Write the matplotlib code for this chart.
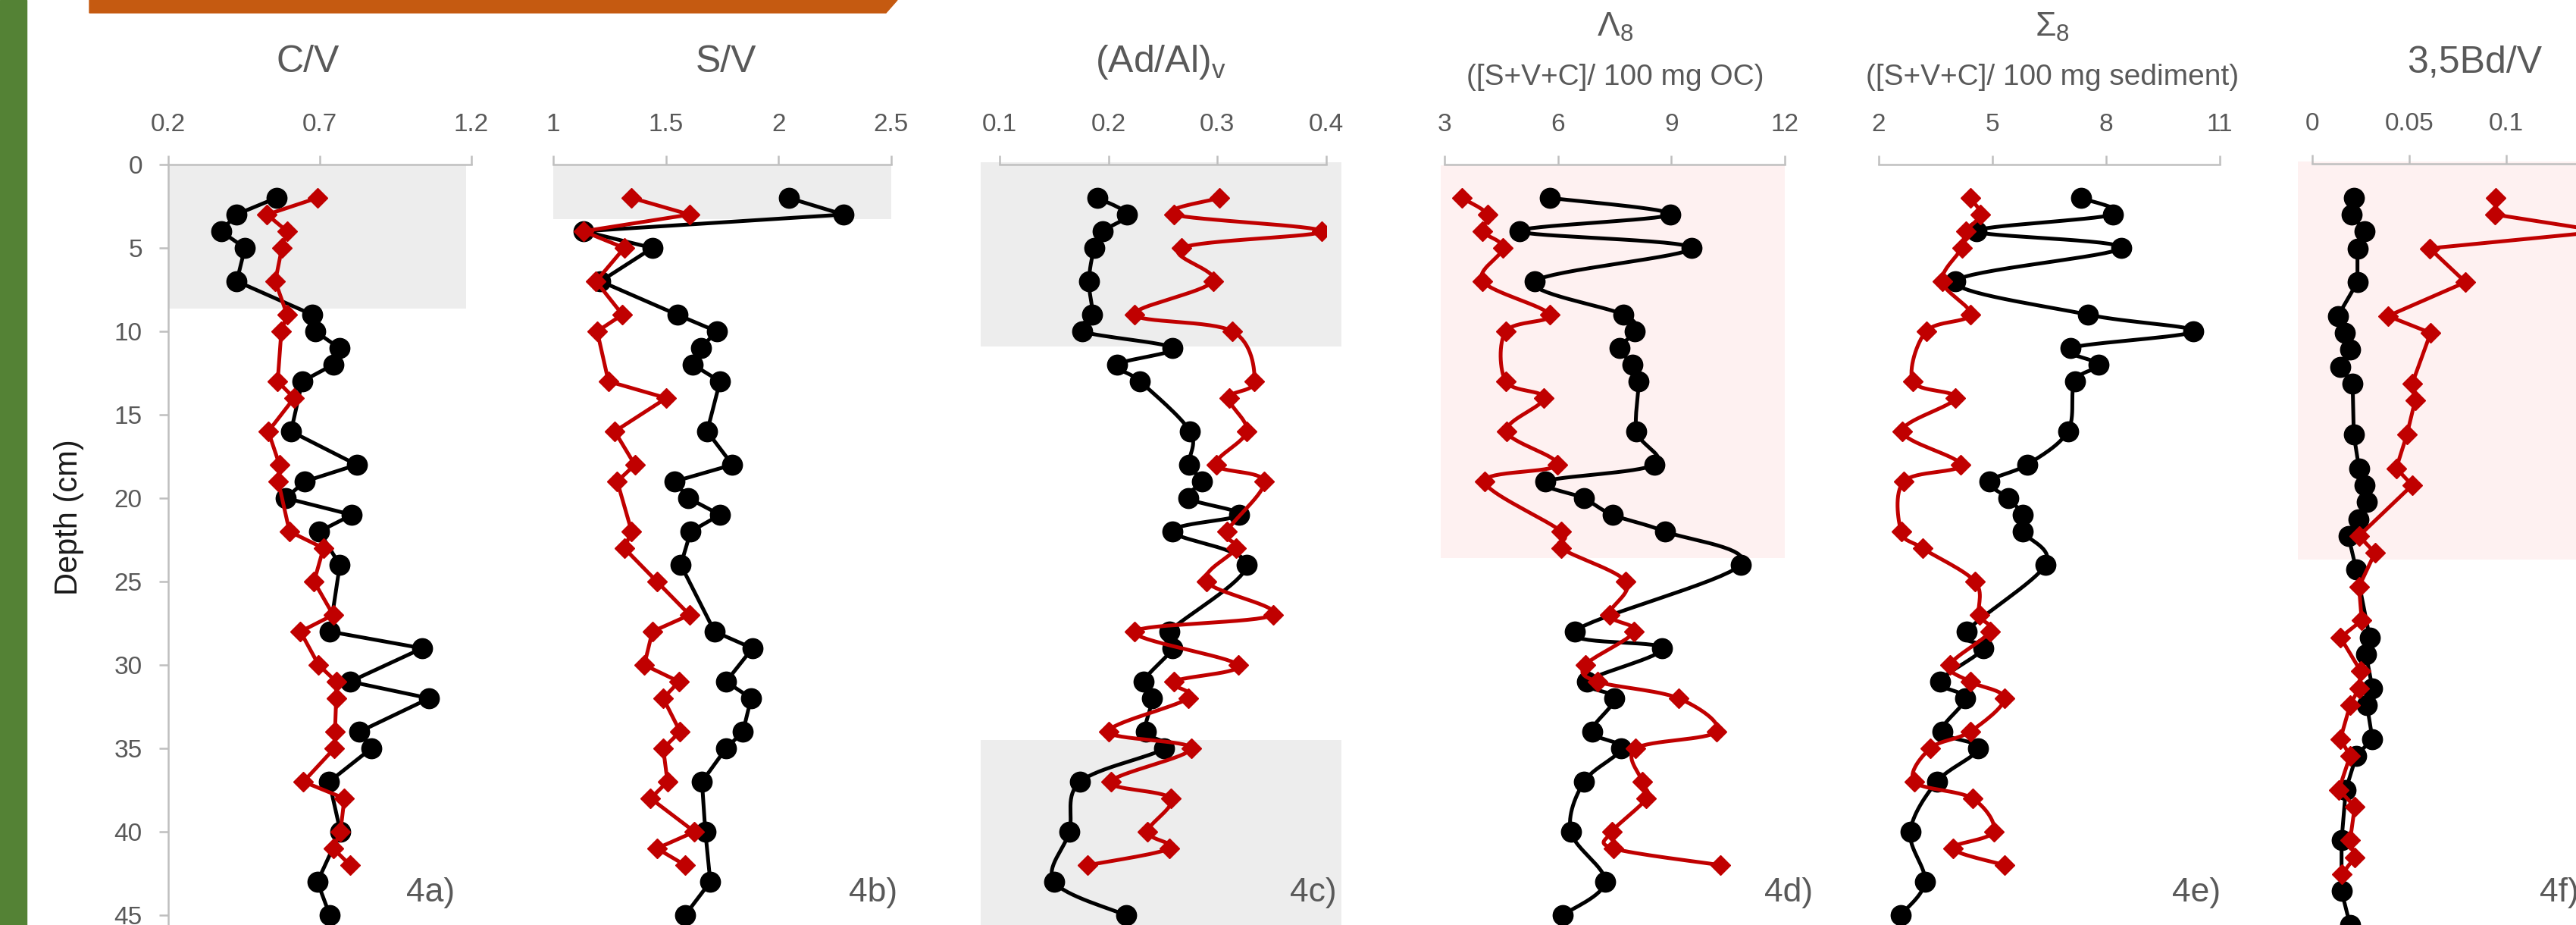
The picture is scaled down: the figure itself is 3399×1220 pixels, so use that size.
import numpy as np
import matplotlib
matplotlib.use("Agg")
import matplotlib.pyplot as plt
from matplotlib.patches import Rectangle, Polygon

# depths (cm) of the two cores
depth_black = [2, 3, 4, 5, 7, 9, 10, 11, 12, 13, 16, 18, 19, 20, 21, 22, 24,
               28, 29, 31, 32, 34, 35, 37, 40, 43, 45]
depth_red = [2, 3, 4, 5, 7, 9, 10, 13, 14, 16, 18, 19, 22, 23, 25, 27, 28,
             30, 31, 32, 34, 35, 37, 38, 40, 41, 42]

# 4a) C/V
cv_black = [0.557, 0.424, 0.374, 0.453, 0.426, 0.675, 0.685, 0.764, 0.744, 0.642, 0.605,
            0.822, 0.65, 0.588, 0.806, 0.698, 0.766, 0.733, 1.038, 0.80, 1.061, 0.831,
            0.870, 0.731, 0.768, 0.692, 0.733]
cv_red = [0.692, 0.526, 0.592, 0.575, 0.553, 0.592, 0.573, 0.561, 0.615, 0.530, 0.567,
          0.563, 0.600, 0.712, 0.681, 0.744, 0.636, 0.696, 0.754, 0.754, 0.75, 0.748,
          0.646, 0.781, 0.768, 0.744, 0.80]
# 4b) S/V
sv_black = [2.045, 2.288, 1.134, 1.44, 1.21, 1.55, 1.725, 1.655, 1.62, 1.74, 1.683,
            1.795, 1.538, 1.60, 1.74, 1.61, 1.566, 1.716, 1.884, 1.767, 1.878, 1.842,
            1.767, 1.66, 1.675, 1.697, 1.585]
sv_red = [1.348, 1.605, 1.134, 1.315, 1.19, 1.307, 1.195, 1.245, 1.502, 1.273, 1.362,
          1.284, 1.348, 1.315, 1.46, 1.605, 1.44, 1.404, 1.558, 1.488, 1.563, 1.488,
          1.507, 1.432, 1.627, 1.46, 1.585]
# 4c) (Ad/Al)v
adal_black = [0.190, 0.217, 0.195, 0.187, 0.182, 0.185, 0.176, 0.259, 0.208, 0.229, 0.275,
              0.274, 0.286, 0.273, 0.32, 0.259, 0.327, 0.256, 0.259, 0.232, 0.240, 0.234,
              0.251, 0.174, 0.164, 0.150, 0.216]
adal_red = [0.302, 0.260, 0.396, 0.267, 0.296, 0.224, 0.314, 0.334, 0.311, 0.327, 0.299,
            0.343, 0.309, 0.317, 0.290, 0.351, 0.224, 0.319, 0.260, 0.273, 0.2, 0.276,
            0.202, 0.257, 0.236, 0.256, 0.181]
# 4d) Lambda8
lam_black = [5.78, 8.97, 4.99, 9.53, 5.39, 7.73, 8.03, 7.63, 7.98, 8.13, 8.08, 8.55, 5.67,
             6.68, 7.45, 8.83, 10.83, 6.44, 8.76, 6.76, 7.49, 6.90, 7.67, 6.69, 6.34, 7.25, 6.12]
lam_red = [3.46, 4.15, 4.01, 4.54, 4.01, 5.78, 4.62, 4.62, 5.63, 4.64, 5.98, 4.06, 6.09,
           6.09, 7.80, 7.36, 8.02, 6.73, 7.04, 9.19, 10.19, 8.06, 8.23, 8.34, 7.43, 7.47, 10.30]
# 4e) Sigma8
sig_black = [7.33, 8.18, 4.58, 8.39, 4.02, 7.52, 10.30, 7.06, 7.80, 7.17, 6.99, 5.91, 4.92,
             5.41, 5.80, 5.80, 6.40, 4.32, 4.76, 3.62, 4.27, 3.67, 4.62, 3.53, 2.83, 3.22, 2.57]
sig_red = [4.41, 4.68, 4.30, 4.19, 3.67, 4.41, 3.25, 2.90, 4.02, 2.62, 4.16, 2.66, 2.59,
           3.15, 4.54, 4.65, 4.93, 3.88, 4.41, 5.32, 4.41, 3.36, 2.94, 4.47, 5.03, 3.95, 5.32]
# 4f) 3,5Bd/V
bd_black = [0.0214, 0.0205, 0.0268, 0.0233, 0.0233, 0.0132, 0.0167, 0.0195, 0.0145, 0.0208,
            0.0214, 0.0241, 0.0268, 0.028, 0.024, 0.0186, 0.0227, 0.0296, 0.0277, 0.031,
            0.0282, 0.031, 0.0227, 0.0173, 0.0151, 0.0151, 0.0195]
bd_red = [0.0945, 0.094, 0.15, 0.0605, 0.079, 0.039, 0.061, 0.0515, 0.053, 0.0488, 0.0433,
          0.0515, 0.0241, 0.0323, 0.0241, 0.0255, 0.0145, 0.025, 0.0241, 0.0195, 0.0145,
          0.0195, 0.0137, 0.0219, 0.0195, 0.0219, 0.0153]

titles = ['C/V', 'S/V', '(Ad/Al)$_v$', 'Λ$_8$', 'Σ$_8$', '3,5Bd/V']
subtitles = ['', '', '', '([S+V+C]/ 100 mg OC)', '([S+V+C]/ 100 mg sediment)', '']
tags = ['4a)', '4b)', '4c)', '4d)', '4e)', '4f)']
xticks = [[0.2, 0.7, 1.2], [1, 1.5, 2, 2.5], [0.1, 0.2, 0.3, 0.4],
          [3, 6, 9, 12], [2, 5, 8, 11], [0, 0.05, 0.1]]
xticklabels = [['0.2', '0.7', '1.2'], ['1', '1.5', '2', '2.5'], ['0.1', '0.2', '0.3', '0.4'],
               ['3', '6', '9', '12'], ['2', '5', '8', '11'], ['0', '0.05', '0.1']]

W, H = 3399, 1220
GREY_AX = '#BFBFBF'
TXT = '#595959'
RED = '#C00000'

plt.rcParams['font.family'] = ['Liberation Sans', 'DejaVu Sans']
plt.rcParams['mathtext.fontset'] = 'custom'
plt.rcParams['mathtext.rm'] = 'Liberation Sans'
plt.rcParams['mathtext.default'] = 'regular'


def smooth(x, y, n=16):
    # Catmull-Rom, same as Excel "smoothed line"
    p = np.column_stack([x, y]).astype(float)
    p = np.vstack([p[0], p, p[-1]])
    t = np.linspace(0, 1, n, endpoint=False)[:, None]
    out = []
    for i in range(1, len(p) - 2):
        p0, p1, p2, p3 = p[i - 1], p[i], p[i + 1], p[i + 2]
        seg = 0.5 * (2 * p1 + (p2 - p0) * t + (2 * p0 - 5 * p1 + 4 * p2 - p3) * t ** 2
                     + (3 * p1 - p0 - 3 * p2 + p3) * t ** 3)
        out.append(seg)
    out.append(p[-2][None])
    arr = np.vstack(out)
    return arr[:, 0], arr[:, 1]


fig = plt.figure(figsize=(W / 100, H / 100), dpi=100)

# slide decorations
fig.patches.append(Rectangle((0, 0), 35 / W, 1, transform=fig.transFigure,
                             color='#548235', zorder=0))
fig.patches.append(Polygon([(118 / W, 1), (1184 / W, 1), (1169 / W, 1 - 17 / H), (118 / W, 1 - 17 / H)],
                           closed=True, transform=fig.transFigure, color='#C55A11', zorder=0))

# layout in pixels: x of axis start/end, depth-0 row, bottom depth
layout = [(222, 622, 217, 45.59), (730, 1176, 217, 45.59), (1319, 1750, 217, 45.59),
          (1906, 2355, 217, 45.59), (2479, 2929, 217, 45.59), (3051, 3435, 216, 45.0)]
xlims = [(0.2, 1.2), (1, 2.5), (0.1, 0.4), (3, 12), (2, 11), (0, 0.15)]
series = [(cv_black, cv_red), (sv_black, sv_red), (adal_black, adal_red),
          (lam_black, lam_red), (sig_black, sig_red), (bd_black, bd_red)]
smoothed = [False, False, True, True, True, False]
shades = [[(0.2, 1.183, 0, 8.65, '#EDEDED')],
          [(1.0, 2.5, 0, 3.27, '#EDEDED')],
          [(0.0824, 0.414, -0.15, 10.93, '#EDEDED'), (0.0824, 0.414, 34.5, 46, '#EDEDED')],
          [(2.9, 12.0, 0.05, 23.6, '#FEF1F1')],
          [],
          [(-0.0074, 0.2, -0.15, 23.4, '#FEF1F1')]]

axes = []
for i, (x0, x1, top, dmax) in enumerate(layout):
    ax = fig.add_axes([x0 / W, 0, (x1 - x0) / W, (H - top) / H])
    ax.patch.set_alpha(0)
    ax.set_xlim(*xlims[i])
    ax.set_ylim(dmax, 0)
    for s in ['bottom', 'right', 'left']:
        ax.spines[s].set_visible(False)
    ax.spines['top'].set_color(GREY_AX)
    ax.spines['top'].set_linewidth(1.8)
    ax.xaxis.tick_top()
    ax.set_xticks(xticks[i])
    ax.set_xticklabels(xticklabels[i])
    ax.tick_params(axis='x', direction='out', length=8.6, width=1.8, color=GREY_AX,
                   labelsize=24, labelcolor=TXT, pad=18)
    if i == 0:
        ax.spines['left'].set_visible(True)
        ax.spines['left'].set_color(GREY_AX)
        ax.spines['left'].set_linewidth(1.8)
        ax.set_yticks(range(0, 50, 5))
        ax.tick_params(axis='y', direction='out', length=8.6, width=1.8, color=GREY_AX,
                       labelsize=24, labelcolor=TXT, pad=16)
    else:
        ax.set_yticks([])

    for (a, b, d0, d1, c) in shades[i]:
        ax.add_patch(Rectangle((a, d0), b - a, d1 - d0, facecolor=c, edgecolor='none',
                               zorder=0, clip_on=False))

    blk, red = series[i]
    if smoothed[i]:
        bx, by = smooth(blk, depth_black)
        rx, ry = smooth(red, depth_red)
    else:
        bx, by = blk, depth_black
        rx, ry = red, depth_red
    ax.plot(bx, by, color='black', lw=3.6, zorder=3, solid_joinstyle='round')
    ax.plot(blk, depth_black, ls='none', marker='o', ms=19, color='black', zorder=4)
    ax.plot(rx, ry, color=RED, lw=3.6, zorder=5, solid_joinstyle='round')
    ax.plot(red, depth_red, ls='none', marker='D', ms=13, color=RED, zorder=6)
    axes.append(ax)


def ftext(x, y, s, **kw):
    fig.text(x / W, 1 - y / H, s, **kw)


title_x = [406, 958, 1531, 2131, 2708, 3265]
for i, t in enumerate(titles):
    if subtitles[i]:
        ftext(title_x[i], 48, t, ha='center', va='baseline', fontsize=32, color=TXT)
        ftext(title_x[i], 112, subtitles[i], ha='center', va='baseline', fontsize=28, color=TXT)
    else:
        ftext(title_x[i], 95, t, ha='center', va='baseline', fontsize=36, color=TXT)

tag_x = [568, 1152, 1733, 2360, 2898, 3351]
for i, t in enumerate(tags):
    ftext(tag_x[i], 1189, t, ha='left' if i == 5 else 'center', va='baseline',
          fontsize=32, color=TXT)

ftext(91, 682, 'Depth (cm)', rotation=90, ha='center', va='center', fontsize=30, color='#1A1A1A')

fig.savefig('out.png', dpi=100)
